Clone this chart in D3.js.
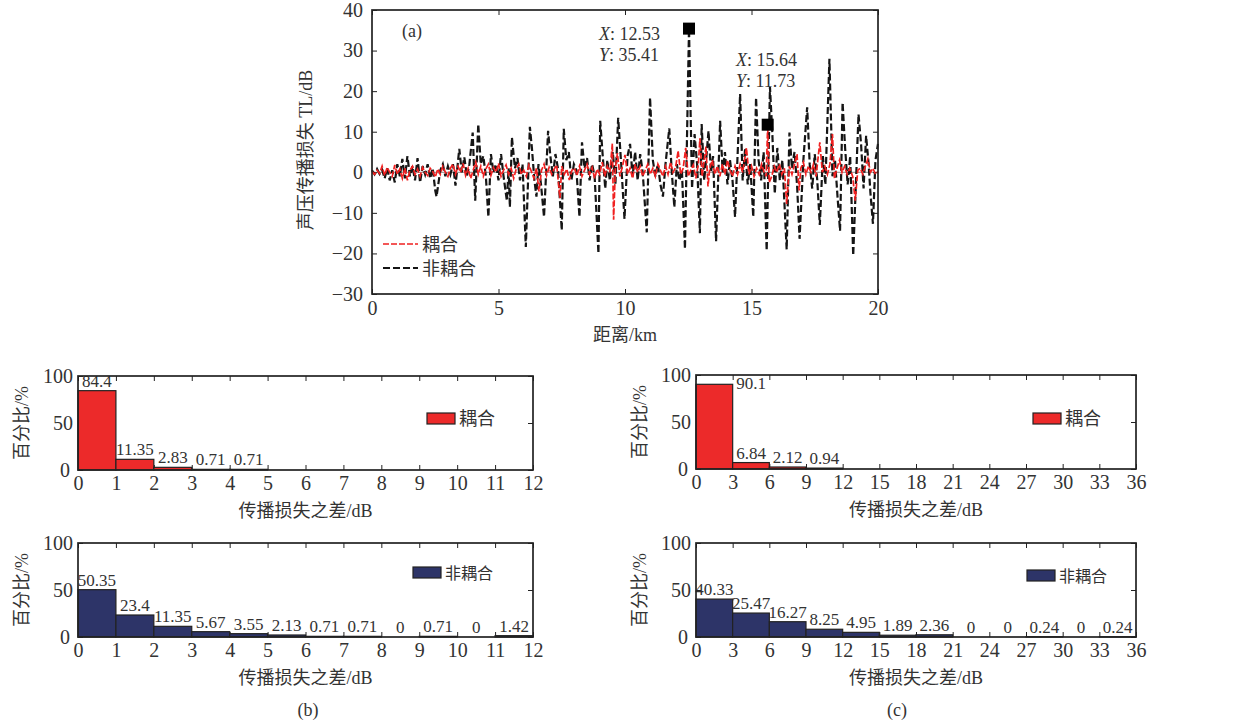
<!DOCTYPE html>
<html>
<head>
<meta charset="utf-8">
<script src="https://cdn.jsdelivr.net/npm/d3@7/dist/d3.min.js"></script>
<style>
  html, body { margin: 0; padding: 0; background: #fff; }
</style>
</head>
<body>
<div id="d3-root" style="width:1238px;height:724px;"></div>
<script>
// (a) transmission loss vs range: vertices
const blackKm = [0.00,0.10,0.20,0.30,0.40,0.50,0.60,0.70,0.80,0.90,1.00,1.10,1.20,1.30,1.40,1.50,1.60,1.70,1.80,1.90,
  2.00,2.10,2.20,2.30,2.40,2.50,2.55,2.70,2.80,2.90,3.00,3.10,3.20,3.30,3.45,3.55,3.65,3.75,3.85,3.98,
  4.08,4.20,4.30,4.40,4.50,4.60,4.70,4.80,4.90,5.00,5.10,5.20,5.33,5.40,5.45,5.53,5.65,5.75,5.85,5.95,
  6.08,6.24,6.32,6.42,6.50,6.58,6.68,6.80,6.96,7.05,7.15,7.25,7.35,7.50,7.58,7.68,7.78,7.88,7.98,8.08,
  8.20,8.30,8.40,8.50,8.60,8.70,8.80,8.95,9.02,9.12,9.22,9.30,9.40,9.52,9.62,9.73,9.85,9.98,10.10,10.20,
  10.30,10.40,10.50,10.60,10.70,10.86,10.99,11.10,11.20,11.30,11.40,11.50,11.60,11.75,11.85,11.95,12.05,12.15,12.25,12.37,
  12.53,12.65,12.75,12.85,12.96,13.03,13.13,13.22,13.30,13.40,13.48,13.60,13.76,13.86,13.95,14.05,14.15,14.25,14.35,14.55,
  14.65,14.75,14.85,14.95,15.07,15.18,15.28,15.38,15.48,15.60,15.73,15.82,15.92,16.02,16.12,16.22,16.39,16.50,16.60,16.70,
  16.80,16.90,17.05,17.20,17.30,17.40,17.50,17.60,17.70,17.82,17.92,18.08,18.20,18.30,18.40,18.50,18.60,18.70,18.80,18.90,
  19.02,19.23,19.33,19.43,19.53,19.63,19.70,19.80,19.90,20.00];
const blackTL = [0.5,-0.5,0.8,-0.4,0.6,-1.5,1.0,-2.0,0.5,-2.5,2.0,-1.0,3.3,-1.5,4.0,-1.0,1.5,-2.0,3.5,-2.5,
  1.5,-0.5,2.0,-1.5,1.0,-4.5,-6.0,0.5,2.0,-1.0,1.5,-0.5,2.0,-3.3,5.8,0.0,3.7,-1.0,2.0,9.8,
  -7.0,11.9,2.0,4.0,-1.0,-11.0,4.5,0.0,2.0,-2.0,4.5,-1.0,-7.0,1.0,-8.6,8.6,1.0,3.5,-2.0,2.0,
  -18.4,11.2,6.0,-2.0,-6.0,2.0,-3.0,-11.0,10.2,4.0,-1.0,4.5,1.0,-14.3,10.7,3.0,5.0,-2.0,2.0,0.5,
  -11.0,7.4,1.0,3.5,-2.0,2.0,-1.0,-20.0,12.7,4.0,-4.0,3.0,-2.0,5.0,-3.0,13.4,2.0,-11.5,4.0,7.0,
  -1.0,5.0,-2.0,4.5,0.0,-14.8,18.4,3.0,-1.0,2.0,-3.0,-6.0,2.0,10.8,0.0,-8.6,2.0,-2.0,0.5,-18.9,
  35.41,-4.0,9.4,2.0,-15.0,11.9,-2.0,4.0,10.2,0.0,4.0,-17.0,12.7,0.0,5.0,-3.0,3.0,-2.0,-11.0,19.3,
  -2.0,6.0,-3.0,2.0,-11.0,18.4,3.0,-2.0,5.0,-19.3,21.0,10.0,-5.3,6.0,-2.0,3.0,-19.0,9.8,1.0,5.0,
  -3.0,-16.4,3.0,16.0,2.0,-4.0,4.5,-2.0,-13.0,4.0,-3.0,28.0,-1.0,3.0,-6.0,-14.4,17.2,6.0,-3.0,4.0,
  -20.5,14.3,7.0,-4.0,9.0,2.0,-5.0,-12.7,3.0,7.0];

const redKm = [0.0,0.1,0.2,0.3,0.4,0.5,0.6,0.7,0.8,0.9,1.0,1.1,1.2,1.3,1.4,1.5,1.6,1.7,1.8,1.9,
  2.0,2.1,2.2,2.3,2.4,2.5,2.6,2.7,2.8,2.9,3.0,3.1,3.2,3.3,3.4,3.5,3.6,3.7,3.8,3.9,
  4.0,4.1,4.2,4.3,4.4,4.5,4.6,4.7,4.8,4.9,5.0,5.1,5.2,5.3,5.4,5.5,5.6,5.7,5.8,5.9,
  6.0,6.1,6.2,6.3,6.4,6.5,6.6,6.7,6.8,6.9,7.0,7.1,7.2,7.3,7.43,7.5,7.6,7.7,7.8,7.9,
  8.0,8.1,8.2,8.3,8.4,8.5,8.6,8.7,8.8,8.9,9.0,9.1,9.2,9.3,9.4,9.5,9.55,9.62,9.7,9.8,
  9.9,10.0,10.1,10.2,10.3,10.4,10.5,10.6,10.7,10.8,10.9,11.0,11.1,11.2,11.3,11.4,11.5,11.6,11.7,11.8,
  11.9,12.0,12.1,12.2,12.3,12.4,12.5,12.6,12.7,12.8,12.9,12.96,13.05,13.1,13.2,13.28,13.35,13.45,13.55,13.65,
  13.75,13.85,13.95,14.05,14.15,14.25,14.35,14.45,14.55,14.65,14.8,14.9,15.0,15.1,15.2,15.3,15.4,15.5,15.58,15.64,
  15.7,15.8,15.9,16.0,16.1,16.2,16.3,16.39,16.5,16.6,16.7,16.8,16.88,16.95,17.05,17.15,17.25,17.35,17.45,17.55,
  17.7,17.8,17.9,18.0,18.1,18.2,18.28,18.38,18.48,18.58,18.68,18.78,18.88,19.0,19.1,19.2,19.3,19.4,19.5,19.6,
  19.7,19.8,19.9,20.0];
const redTL = [0.2,-0.5,0.5,-0.3,1.5,-0.8,1.2,0.0,-1.0,1.8,-0.5,0.8,-1.5,1.0,-2.0,0.5,1.5,-0.5,0.8,-1.0,
  1.2,0.0,-0.8,1.0,0.2,-1.2,0.8,-0.5,1.5,0.0,-1.0,1.0,2.0,-0.5,1.5,0.0,2.2,-0.8,1.0,-1.5,
  0.5,2.5,-0.5,1.5,-1.0,0.8,2.0,-0.8,1.2,0.0,2.2,-1.0,0.5,1.8,-0.5,1.0,-1.5,0.8,2.0,-0.5,
  0.5,-1.0,1.8,0.2,-1.5,1.0,-4.7,0.5,2.0,-0.8,1.2,-0.5,0.8,1.8,-6.4,1.5,-0.5,0.8,-1.9,0.5,
  1.0,-0.8,1.5,-1.0,0.5,2.0,-0.5,1.2,-1.5,0.8,-0.5,2.5,-1.0,1.5,0.0,7.1,-11.7,1.0,4.7,-1.0,
  1.5,4.3,-0.5,1.0,-1.5,2.0,0.0,1.5,-1.0,0.5,2.0,-0.5,1.0,-1.0,2.0,0.5,-1.0,1.5,-0.5,2.5,
  0.0,1.2,5.3,-0.5,1.0,6.0,-1.0,0.5,1.8,-1.5,2.0,8.4,-1.0,1.5,6.3,-3.5,1.0,3.0,-0.5,1.5,
  -1.0,2.0,-0.5,3.0,0.5,-1.0,1.5,-0.5,2.0,0.0,6.0,-0.5,1.5,-1.0,1.0,-0.5,2.0,0.0,-1.0,11.73,
  -2.5,-1.0,1.5,0.0,2.0,-0.5,1.0,-7.8,1.5,-0.5,2.0,4.5,-4.5,1.0,2.5,-0.5,1.5,0.0,2.0,-1.0,
  7.4,0.0,1.5,-0.5,2.0,9.4,-1.5,1.0,3.0,0.0,1.5,-0.5,1.0,-1.0,-7.0,0.5,1.0,-0.5,1.5,3.3,
  0.0,1.0,-0.5,0.2];

const kmTicks = [0, 5, 10, 15, 20];
const tlTicks = [-30, -20, -10, 0, 10, 20, 30, 40];
const markers = [
  { km: 12.53, tl: 35.41 },
  { km: 15.64, tl: 11.73 }
];

// (b) 1 dB bins, (c) 3 dB bins
const edgesB = [0, 1, 2, 3, 4, 5, 6, 7, 8, 9, 10, 11, 12];
const coupledB = [84.4, 11.35, 2.83, 0.71, 0.71, 0, 0, 0, 0, 0, 0, 0];
const coupledBLabels = ["84.4", "11.35", "2.83", "0.71", "0.71", "", "", "", "", "", "", ""];
const uncoupledB = [50.35, 23.4, 11.35, 5.67, 3.55, 2.13, 0.71, 0.71, 0, 0.71, 0, 1.42];
const uncoupledBLabels = ["50.35", "23.4", "11.35", "5.67", "3.55", "2.13", "0.71", "0.71", "0", "0.71", "0", "1.42"];

const edgesC = [0, 3, 6, 9, 12, 15, 18, 21, 24, 27, 30, 33, 36];
const coupledC = [90.1, 6.84, 2.12, 0.94, 0, 0, 0, 0, 0, 0, 0, 0];
const coupledCLabels = ["90.1", "6.84", "2.12", "0.94", "", "", "", "", "", "", "", ""];
const uncoupledC = [40.33, 25.47, 16.27, 8.25, 4.95, 1.89, 2.36, 0, 0, 0.24, 0, 0.24];
const uncoupledCLabels = ["40.33", "25.47", "16.27", "8.25", "4.95", "1.89", "2.36", "0", "0", "0.24", "0", "0.24"];

const pctTicks = [0, 50, 100];

const FONT = "'Liberation Serif', 'Noto Sans CJK SC', serif";
const RED = "#ec2a2a";
const NAVY = "#2d3468";
const TXT = "#333";

const root = d3.select("#d3-root");
const svg = root.append("svg")
  .attr("width", 1238)
  .attr("height", 724)
  .attr("font-family", FONT);

svg.append("rect").attr("width", 1238).attr("height", 724).attr("fill", "#fff");

function styleAxis(g, size) {
  g.select(".domain").remove();
  g.selectAll(".tick line").attr("stroke", "#222").attr("stroke-width", 1);
  g.selectAll(".tick text").attr("fill", TXT).attr("font-family", FONT).attr("font-size", size);
}

function minusFmt(d) {
  return d < 0 ? "\u2212" + Math.abs(d) : String(d);
}

// ---------- (a) ----------
const xA = d3.scaleLinear().domain([0, 20]).range([372, 878]);
const yA = d3.scaleLinear().domain([-30, 40]).range([294, 10]);

svg.append("line")
  .attr("x1", xA(0)).attr("x2", xA(20))
  .attr("y1", yA(0)).attr("y2", yA(0))
  .attr("stroke", "#888").attr("stroke-width", 1);

svg.append("g").attr("transform", `translate(0,${yA(-30)})`)
  .call(d3.axisBottom(xA).tickValues(kmTicks).tickSizeInner(-5).tickSizeOuter(0).tickPadding(7))
  .call(g => styleAxis(g, 20));
svg.append("g").attr("transform", `translate(0,${yA(40)})`)
  .call(d3.axisTop(xA).tickValues(kmTicks).tickSizeInner(-5).tickSizeOuter(0).tickFormat(""))
  .call(g => styleAxis(g, 20));
svg.append("g").attr("transform", `translate(${xA(0)},0)`)
  .call(d3.axisLeft(yA).tickValues(tlTicks).tickSizeInner(-5).tickSizeOuter(0).tickPadding(9).tickFormat(minusFmt))
  .call(g => styleAxis(g, 20));
svg.append("g").attr("transform", `translate(${xA(20)},0)`)
  .call(d3.axisRight(yA).tickValues(tlTicks).tickSizeInner(-5).tickSizeOuter(0).tickFormat(""))
  .call(g => styleAxis(g, 20));

const lineA = d3.line().x(d => xA(d[0])).y(d => yA(d[1]));

svg.append("path")
  .datum(blackKm.map((k, i) => [k, blackTL[i]]))
  .attr("d", lineA)
  .attr("fill", "none")
  .attr("stroke", "#151515")
  .attr("stroke-width", 2.2)
  .attr("stroke-dasharray", "7,3");

svg.append("path")
  .datum(redKm.map((k, i) => [k, redTL[i]]))
  .attr("d", lineA)
  .attr("fill", "none")
  .attr("stroke", "#f02020")
  .attr("stroke-width", 1.7)
  .attr("stroke-dasharray", "6,2");

svg.append("rect")
  .attr("x", xA(0)).attr("y", yA(40))
  .attr("width", xA(20) - xA(0)).attr("height", yA(-30) - yA(40))
  .attr("fill", "none").attr("stroke", "#222").attr("stroke-width", 1.7);

svg.selectAll(".marker").data(markers).join("rect")
  .attr("x", d => xA(d.km) - 6).attr("y", d => yA(d.tl) - 6)
  .attr("width", 12).attr("height", 12)
  .attr("fill", "#000");

// data tips
function dataTip(x, y, m) {
  const t = svg.append("text").attr("x", x).attr("y", y).attr("font-size", 18).attr("fill", TXT);
  t.append("tspan").attr("font-style", "italic").text("X");
  t.append("tspan").text(": " + m.km.toFixed(2));
  const t2 = svg.append("text").attr("x", x).attr("y", y + 21).attr("font-size", 18).attr("fill", TXT);
  t2.append("tspan").attr("font-style", "italic").text("Y");
  t2.append("tspan").text(": " + m.tl.toFixed(2));
}
dataTip(599, 40, markers[0]);
dataTip(736, 66, markers[1]);

svg.append("text").attr("x", 402).attr("y", 37).attr("font-size", 18).attr("fill", TXT).text("(a)");

// legend (a)
const legA = [
  { name: "耦合", color: "#f02020", w: 1.7, dash: "6,2" },
  { name: "非耦合", color: "#151515", w: 2.2, dash: "7,3" }
];
legA.forEach((d, i) => {
  const y = 244 + i * 24;
  svg.append("line").attr("x1", 383).attr("x2", 418).attr("y1", y).attr("y2", y)
    .attr("stroke", d.color).attr("stroke-width", d.w).attr("stroke-dasharray", d.dash);
  svg.append("text").attr("x", 422).attr("y", y + 7).attr("font-size", 18).attr("fill", TXT).text(d.name);
});

svg.append("text")
  .attr("x", 625).attr("y", 341).attr("text-anchor", "middle")
  .attr("font-size", 18).attr("fill", TXT).text("距离/km");
svg.append("text")
  .attr("transform", `translate(312,${(yA(40) + yA(-30)) / 2 - 2}) rotate(-90)`)
  .attr("text-anchor", "middle")
  .attr("font-size", 18).attr("fill", TXT).text("声压传播损失 TL/dB");

// ---------- histograms ----------
function histogram(opt) {
  const x = d3.scaleLinear().domain([opt.edges[0], opt.edges[opt.edges.length - 1]]).range([opt.left, opt.right]);
  const y = d3.scaleLinear().domain([0, 100]).range([opt.bottom, opt.top]);
  const g = svg.append("g");

  g.append("g").attr("transform", `translate(0,${opt.bottom})`)
    .call(d3.axisBottom(x).tickValues(opt.edges).tickSizeInner(-5).tickSizeOuter(0).tickPadding(6))
    .call(a => styleAxis(a, 20));
  g.append("g").attr("transform", `translate(0,${opt.top})`)
    .call(d3.axisTop(x).tickValues(opt.edges).tickSizeInner(-5).tickSizeOuter(0).tickFormat(""))
    .call(a => styleAxis(a, 20));
  g.append("g").attr("transform", `translate(${opt.left},0)`)
    .call(d3.axisLeft(y).tickValues(pctTicks).tickSizeInner(-5).tickSizeOuter(0).tickPadding(5))
    .call(a => styleAxis(a, 20))
    .call(a => a.selectAll(".tick text").filter(d => d === 0).attr("x", -8));
  g.append("g").attr("transform", `translate(${opt.right},0)`)
    .call(d3.axisRight(y).tickValues(pctTicks).tickSizeInner(-5).tickSizeOuter(0).tickFormat(""))
    .call(a => styleAxis(a, 20));

  const bins = opt.values.map((v, i) => ({ v, lab: opt.labels[i], x0: opt.edges[i], x1: opt.edges[i + 1] }));

  g.selectAll(".bar").data(bins).join("rect")
    .attr("x", d => x(d.x0)).attr("width", d => x(d.x1) - x(d.x0))
    .attr("y", d => y(d.v)).attr("height", d => y(0) - y(d.v))
    .attr("fill", opt.color).attr("stroke", "#222").attr("stroke-width", 1.2);

  // labels over the bars; the tallest one that would hit the frame goes beside it
  g.selectAll(".lab").data(bins.filter(d => d.lab !== "")).join("text")
    .attr("x", d => d.v > 88 ? x(d.x1) + (x(d.x1) - x(d.x0)) / 2 : (x(d.x0) + x(d.x1)) / 2)
    .attr("y", d => d.v > 88 ? y(d.v) + 5 : y(d.v) - 4)
    .attr("text-anchor", "middle")
    .attr("font-size", 17).attr("fill", TXT)
    .text(d => d.lab);

  g.append("rect")
    .attr("x", opt.left).attr("y", opt.top)
    .attr("width", opt.right - opt.left).attr("height", opt.bottom - opt.top)
    .attr("fill", "none").attr("stroke", "#222").attr("stroke-width", 1.7);

  // legend
  g.append("rect")
    .attr("x", opt.legX).attr("y", opt.legY)
    .attr("width", 28).attr("height", 11)
    .attr("fill", opt.color).attr("stroke", "#222").attr("stroke-width", 1.2);
  g.append("text")
    .attr("x", opt.legX + 32).attr("y", opt.legY + 12)
    .attr("font-size", opt.legSize).attr("fill", TXT).text(opt.name);

  g.append("text")
    .attr("x", (opt.left + opt.right) / 2).attr("y", opt.bottom + 47)
    .attr("text-anchor", "middle").attr("font-size", 18).attr("fill", TXT)
    .text("传播损失之差/dB");
  g.append("text")
    .attr("transform", `translate(${opt.left - 50},${(opt.top + opt.bottom) / 2}) rotate(-90)`)
    .attr("text-anchor", "middle").attr("font-size", 18).attr("fill", TXT)
    .text("百分比/%");
}

histogram({ edges: edgesB, values: coupledB, labels: coupledBLabels, color: RED, name: "耦合",
  left: 78, right: 533, top: 376, bottom: 470, legX: 427, legY: 413, legSize: 18 });
histogram({ edges: edgesB, values: uncoupledB, labels: uncoupledBLabels, color: NAVY, name: "非耦合",
  left: 78, right: 533, top: 543, bottom: 637, legX: 413, legY: 567, legSize: 16 });
histogram({ edges: edgesC, values: coupledC, labels: coupledCLabels, color: RED, name: "耦合",
  left: 696, right: 1136, top: 375, bottom: 469, legX: 1033, legY: 413, legSize: 18 });
histogram({ edges: edgesC, values: uncoupledC, labels: uncoupledCLabels, color: NAVY, name: "非耦合",
  left: 696, right: 1136, top: 543, bottom: 637, legX: 1027, legY: 570, legSize: 16 });

svg.append("text").attr("x", 308).attr("y", 716).attr("text-anchor", "middle")
  .attr("font-size", 18).attr("fill", TXT).text("(b)");
svg.append("text").attr("x", 897).attr("y", 716).attr("text-anchor", "middle")
  .attr("font-size", 18).attr("fill", TXT).text("(c)");
</script>
</body>
</html>
